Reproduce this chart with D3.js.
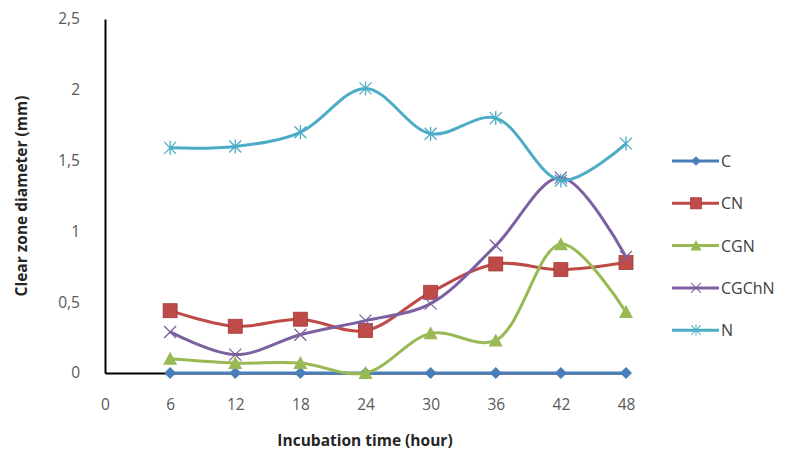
<!DOCTYPE html>
<meta charset="utf-8">
<script src="https://d3js.org/d3.v7.js"></script>
<style>
  body { margin: 0; background: #fff; }
  text { font-family: "Open Sans", "Noto Sans", sans-serif; }
</style>
<div id="chart"></div>

<script>

var hours = [6, 12, 18, 24, 30, 36, 42, 48];
var xTicks = [0, 6, 12, 18, 24, 30, 36, 42, 48];
var yTicks = [0, 0.5, 1, 1.5, 2, 2.5];

var seriesNames = ["C", "CN", "CGN", "CGChN", "N"];
var C     = [0, 0, 0, 0, 0, 0, 0, 0];
var CN    = [0.44, 0.33, 0.38, 0.30, 0.57, 0.77, 0.73, 0.78];
var CGN   = [0.10, 0.07, 0.07, 0.00, 0.28, 0.23, 0.91, 0.43];
var CGChN = [0.29, 0.13, 0.27, 0.37, 0.49, 0.90, 1.38, 0.82];
var N     = [1.59, 1.60, 1.70, 2.01, 1.69, 1.80, 1.36, 1.62];

var colors = {C: "#4a7ebb", CN: "#be4b48", CGN: "#98b954", CGChN: "#7d60a0", N: "#4bacc6"};
var values = {C: C, CN: CN, CGN: CGN, CGChN: CGChN, N: N};

var W = 791, H = 454;
var margin = {top: 19, left: 105};
var width = 626 - margin.left,
    height = 373 - margin.top;

var svg = d3.select("#chart").append("svg")
    .attr("width", W)
    .attr("height", H);

var g = svg.append("g")
    .attr("transform", "translate(" + margin.left + "," + margin.top + ")");

var x = d3.scaleLinear().domain([0, 48]).range([0, width]);
var y = d3.scaleLinear().domain([0, 2.5]).range([height, 0]);

var fmt = function(d) { return String(d).replace(".", ","); };

// axes
var xAxis = g.append("g")
  .attr("transform", "translate(0," + height + ")")
  .call(d3.axisBottom(x).tickValues(xTicks).tickSize(0).tickPadding(26).tickFormat(fmt));
var yAxis = g.append("g")
  .call(d3.axisLeft(y).tickValues(yTicks).tickSize(0).tickPadding(25).tickFormat(fmt));

[xAxis, yAxis].forEach(function(a) {
  a.select(".domain").attr("stroke", "#000").attr("stroke-width", 2);
  a.selectAll("text").attr("fill", "#595959").style("font-size", "15.5px");
});

// titles
svg.append("text")
  .attr("x", 365).attr("y", 446)
  .attr("text-anchor", "middle")
  .style("font-size", "15.5px").style("font-weight", "bold")
  .attr("fill", "#262626")
  .text("Incubation time (hour)");

svg.append("text")
  .attr("transform", "translate(27,196) rotate(-90)")
  .attr("text-anchor", "middle")
  .style("font-size", "15.5px").style("font-weight", "bold")
  .attr("fill", "#262626")
  .text("Clear zone diameter (mm)");

var line = d3.line()
  .x(function(d) { return x(d[0]); })
  .y(function(d) { return y(d[1]); })
  .curve(d3.curveCatmullRom.alpha(0.5));

function drawMarker(sel, name, s) {
  var c = colors[name];
  s = s || 1;
  if (name === "C") {
    sel.append("path").attr("d", "M0,-6L6,0L0,6L-6,0Z").attr("fill", c).attr("transform", "scale(" + s + ")");
  } else if (name === "CN") {
    sel.append("rect").attr("x", -7).attr("y", -7).attr("width", 14).attr("height", 14)
      .attr("transform", "scale(" + s + ")")
      .attr("fill", c).attr("stroke", "#a33a38").attr("stroke-width", 0.8);
  } else if (name === "CGN") {
    sel.append("path").attr("d", "M0,-7L7,6L-7,6Z").attr("fill", c).attr("transform", "scale(" + s + ")");
  } else if (name === "CGChN") {
    sel.append("path").attr("d", "M-6,-6L6,6M-6,6L6,-6").attr("stroke", c).attr("stroke-width", 1.3)
      .attr("transform", "scale(" + s + ")");
  } else {
    sel.append("path").attr("d", "M-6,-6L6,6M-6,6L6,-6M0,-7L0,7").attr("stroke", c).attr("stroke-width", 1.3)
      .attr("transform", "scale(" + s + ")");
  }
}

seriesNames.forEach(function(name) {
  var pts = hours.map(function(h, i) { return [h, values[name][i]]; });
  g.append("path")
    .datum(pts)
    .attr("fill", "none")
    .attr("stroke", colors[name])
    .attr("stroke-width", 3)
    .attr("d", line);
  g.selectAll(".m-" + name)
    .data(pts)
    .enter().append("g")
    .attr("transform", function(d) { return "translate(" + x(d[0]) + "," + y(d[1]) + ")"; })
    .each(function() { drawMarker(d3.select(this), name); });
});

// legend
var legend = svg.append("g").attr("transform", "translate(672,161)");
seriesNames.forEach(function(name, i) {
  var row = legend.append("g").attr("transform", "translate(0," + (i * 42.3) + ")");
  row.append("line").attr("x1", 0).attr("x2", 47).attr("y1", 0).attr("y2", 0)
    .attr("stroke", colors[name]).attr("stroke-width", 3);
  drawMarker(row.append("g").attr("transform", "translate(24,0)"), name, 0.8);
  row.append("text").attr("x", 49).attr("y", 6)
    .style("font-size", "16px").attr("fill", "#404040")
    .text(name);
});

</script>
